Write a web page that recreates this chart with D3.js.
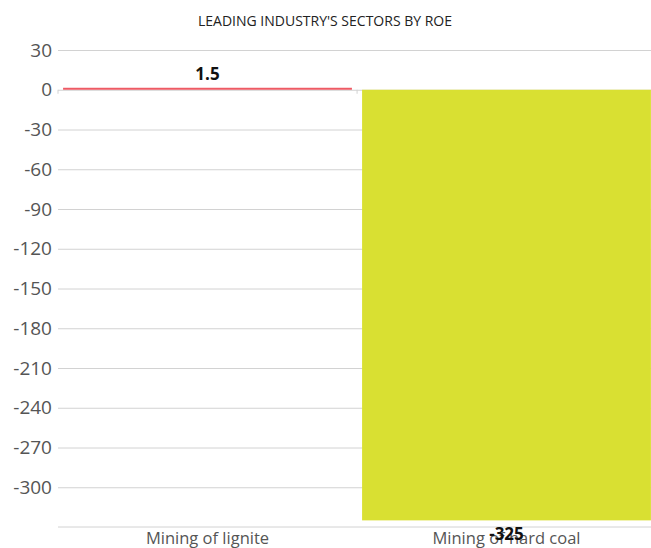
<!DOCTYPE html>
<html>
<head>
<meta charset="utf-8">
<script src="https://cdn.jsdelivr.net/npm/d3@7"></script>
<style>
  body { margin: 0; background: #fff; }
  text { font-family: "Open Sans", "Noto Sans", sans-serif; }
</style>
</head>
<body>
<div id="chart"></div>
<script>
var categories = ['Mining of lignite', 'Mining of hard coal'];
var values = [1.5, -325];
var barColors = ['#ee5a64', '#d9e032'];
var yTicks = [30, 0, -30, -60, -90, -120, -150, -180, -210, -240, -270, -300];
var title = "LEADING INDUSTRY'S SECTORS BY ROE";

(function(){
    var W = 651, H = 548;
    var margin = { top: 50, right: 0, bottom: 21, left: 58 };

    var svg = d3.select('#chart').append('svg')
        .attr('width', W).attr('height', H);

    var x = d3.scaleBand()
        .domain(categories)
        .range([margin.left, 656])
        .paddingInner(0.034)
        .paddingOuter(0.017);

    var y = d3.scaleLinear()
        .domain([-330, 30])
        .range([H - margin.bottom, margin.top]);

    // plain hyphen for negatives, like the original
    function fmt(d) { return String(d); }

    // title
    svg.append('text')
        .attr('x', 325).attr('y', 26)
        .attr('text-anchor', 'middle')
        .style('font-size', '14px')
        .attr('fill', '#222')
        .text(title);

    // grid + y labels
    var yAxis = d3.axisLeft(y)
        .tickValues(yTicks)
        .tickFormat(fmt)
        .tickSize(-(W - margin.left))
        .tickPadding(6);
    var yg = svg.append('g')
        .attr('transform', 'translate(' + margin.left + ',0)')
        .call(yAxis);
    yg.select('.domain').remove();
    yg.selectAll('.tick line').attr('stroke', '#d2d2d2').attr('stroke-width', 1);
    yg.selectAll('.tick text')
        .attr('x', -6)
        .attr('fill', '#555')
        .style('font-size', '19px')
        .style('font-family', '"Open Sans", sans-serif');

    // bars
    svg.selectAll('rect.bar')
        .data(values)
        .enter().append('rect')
        .attr('class', 'bar')
        .attr('x', function(d, i){ return x(categories[i]); })
        .attr('width', x.bandwidth())
        .attr('y', function(d){ return y(Math.max(0, d)); })
        .attr('height', function(d){ return Math.abs(y(d) - y(0)); })
        .attr('fill', function(d, i){ return barColors[i]; });

    // small ticks at zero
    svg.append('line')
        .attr('x1', margin.left).attr('x2', margin.left)
        .attr('y1', y(0)).attr('y2', y(0) + 4)
        .attr('stroke', '#d2d2d2');
    svg.append('line')
        .attr('x1', x(categories[1]) - 5).attr('x2', x(categories[1]) - 5)
        .attr('y1', y(0)).attr('y2', y(0) + 4)
        .attr('stroke', '#d2d2d2');

    // bottom axis line
    svg.append('line')
        .attr('x1', margin.left).attr('x2', W)
        .attr('y1', y(-330)).attr('y2', y(-330))
        .attr('stroke', '#d2d2d2');

    // category labels
    svg.selectAll('text.cat')
        .data(categories)
        .enter().append('text')
        .attr('class', 'cat')
        .attr('x', function(d){ return x(d) + x.bandwidth() / 2; })
        .attr('y', 544)
        .attr('text-anchor', 'middle')
        .attr('fill', '#555')
        .style('font-size', '16.5px')
        .text(function(d){ return d; });

    // value labels
    svg.selectAll('text.val')
        .data(values)
        .enter().append('text')
        .attr('class', 'val')
        .attr('x', function(d, i){ return x(categories[i]) + x.bandwidth() / 2; })
        .attr('y', function(d){ return d >= 0 ? y(d) - 8 : y(d) + 20; })
        .attr('text-anchor', 'middle')
        .attr('fill', '#111')
        .style('font-size', '17px')
        .style('font-weight', 'bold')
        .text(function(d){ return fmt(d); });
})();
</script>
</body>
</html>
